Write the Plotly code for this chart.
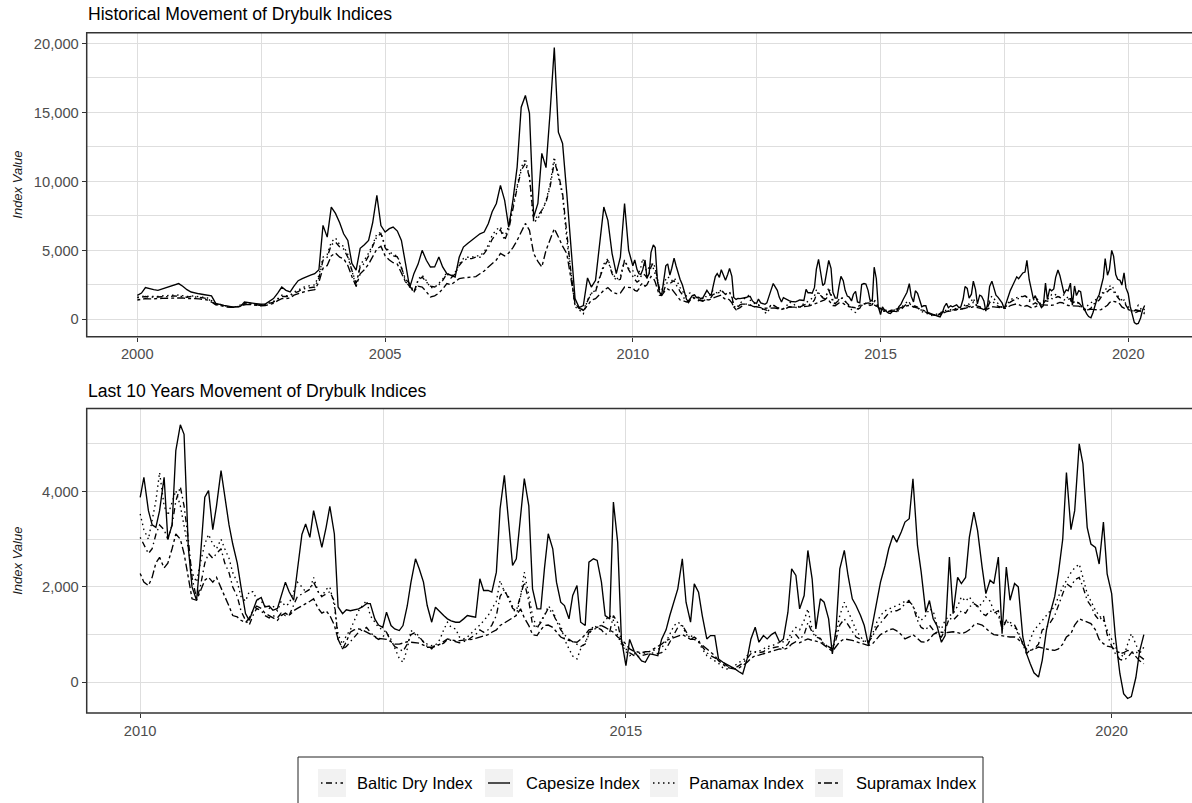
import pandas as pd
import plotly.graph_objects as go

W, H = 1192, 803

# ---------------------------------------------------------------------------
# Index values. Monthly readings for 2000-2009, twice-monthly from 2010 on.
# ---------------------------------------------------------------------------
dates_monthly = pd.date_range("2000-01-01", "2009-12-01", freq="MS")
dates_semimonthly = pd.date_range("2010-01-01", "2020-05-01", freq="SMS")

capesize_2000s = [
    1740, 1900, 2300, 2200, 2150, 2100, 2200, 2250, 2350, 2450, 2590, 2400,
    2150, 1980, 1900, 1850, 1800, 1740, 1700, 1150, 1050, 1010, 950, 890,
    900, 950, 1250, 1200, 1140, 1100, 1090, 1100, 1300, 1500, 1900, 2340,
    2100, 1980, 2400, 2800, 2950, 3100, 3200, 3310, 3600, 6810, 5960, 8140,
    7680, 7000, 6200, 5720, 4050, 3560, 5150, 5400, 5720, 7000, 8990, 6800,
    6330, 6570, 6690, 6400, 5720, 4000, 2300, 3310, 4000, 5000, 4280, 3790,
    3800, 4510, 3800, 3310, 3200, 3070, 4500, 5240, 5500, 5720, 6000, 6200,
    6330, 6950, 7800, 8400, 9710, 8620, 6690, 8620, 11040, 15380, 16230, 14930,
    7410, 8400, 12030, 11000, 15000, 19700, 13570, 12750, 9130, 5000, 1500, 850,
    1000, 3000, 2340, 2830, 5500, 8140, 7170, 4770, 3310, 4500, 8400, 5000,
]
baltic_2000s = [
    1550, 1600, 1650, 1600, 1600, 1620, 1650, 1650, 1650, 1700, 1700, 1650,
    1600, 1650, 1620, 1600, 1550, 1500, 1300, 1100, 1050, 950, 900, 880,
    900, 1000, 1100, 1150, 1100, 1050, 1000, 1050, 1150, 1250, 1450, 1650,
    1650, 1700, 1900, 2000, 2200, 2250, 2300, 2340, 3000, 4280, 4500, 5400,
    5600, 5250, 5100, 4500, 3550, 2600, 3800, 4050, 4600, 5250, 6000, 6210,
    5200, 4770, 4600, 4530, 3800, 2900, 2590, 2000, 2800, 3070, 2700, 2400,
    2340, 2500, 2800, 3310, 3000, 3300, 3900, 4280, 4400, 4400, 4510, 4500,
    4770, 5200, 5800, 6210, 6500, 5720, 6500, 8140, 9500, 10800, 11300, 10310,
    7170, 7500, 7900, 8500, 9590, 11400, 10550, 9130, 6210, 3500, 1000, 800,
    700, 1300, 1880, 2000, 3000, 3800, 4280, 3300, 2830, 2900, 4280, 3600,
]
panamax_2000s = [
    1600, 1650, 1700, 1650, 1640, 1650, 1700, 1700, 1720, 1750, 1760, 1700,
    1650, 1700, 1680, 1650, 1600, 1550, 1350, 1150, 1080, 980, 930, 900,
    920, 1050, 1150, 1200, 1130, 1080, 1020, 1080, 1200, 1300, 1500, 1750,
    1700, 1750, 2000, 2100, 2300, 2400, 2450, 2500, 3200, 4500, 4700, 5600,
    5900, 5400, 5300, 4700, 3600, 2340, 4000, 4300, 4800, 5400, 6200, 6300,
    5300, 4900, 4700, 4600, 3800, 2700, 2500, 1900, 2900, 3200, 2800, 2300,
    2300, 2600, 2900, 3400, 3100, 3400, 4000, 4400, 4500, 4500, 4600, 4600,
    4900, 5400, 6100, 6500, 6700, 5900, 6800, 8300, 9700, 11000, 11650, 10300,
    7000, 7300, 7800, 8600, 9800, 11760, 10300, 9000, 5800, 3200, 900, 700,
    400, 1400, 1900, 2100, 3100, 4000, 4400, 3400, 2900, 3100, 4300, 3700,
]
supramax_2000s = [
    1400, 1450, 1500, 1480, 1470, 1500, 1520, 1530, 1540, 1560, 1580, 1550,
    1500, 1520, 1500, 1480, 1450, 1400, 1250, 1050, 1000, 920, 880, 860,
    870, 950, 1050, 1080, 1050, 1000, 980, 1000, 1080, 1150, 1350, 1500,
    1500, 1550, 1750, 1850, 2000, 2050, 2100, 2150, 2700, 3700, 3900, 4600,
    4800, 4500, 4400, 3900, 3100, 2400, 3300, 3600, 4000, 4500, 5100, 5300,
    4600, 4300, 4100, 4000, 3400, 2700, 2400, 2000, 2400, 2340, 2000, 1620,
    1700, 1900, 2200, 2590, 2500, 2700, 2950, 3000, 3050, 3070, 3100, 3300,
    3500, 3800, 4050, 4300, 4770, 4600, 4800, 5200, 5720, 6300, 6950, 6450,
    4770, 4200, 3790, 5000, 5720, 6570, 5970, 5300, 4770, 3070, 1140, 800,
    650, 1000, 1380, 1500, 1800, 2100, 2300, 2000, 1860, 1900, 2340, 2300,
]

capesize_2010s = [
    3880, 4300, 3600, 3300, 3250, 3600, 4300, 3000, 3300, 4860, 5400, 5200,
    2830, 2000, 1720, 2600, 3880, 4020, 3200, 3700, 4440, 3900, 3300, 2900,
    2500, 2000, 1440, 1300, 1500, 1720, 1780, 1580, 1600, 1510, 1550, 1800,
    2100, 1900, 1720, 2350, 3100, 3320, 3040, 3600, 3200, 2830, 3250, 3690,
    3110, 1580, 1440, 1520, 1500, 1520, 1540, 1580, 1650, 1650, 1330, 1200,
    1150, 1470, 1190, 1120, 1085, 1190, 1600, 2100, 2590, 2380, 2100, 1610,
    1260, 1575, 1470, 1400, 1330, 1290, 1260, 1260, 1330, 1400, 1380, 1365,
    2170, 1925, 1925, 1890, 2310, 3640, 4340, 3430, 2450, 2590, 3430, 4270,
    3700, 1960, 1540, 1540, 2400, 3115, 2800, 2100, 1680, 1610, 1330, 1820,
    2030, 1260, 1190, 2520, 2590, 2555, 2100, 1400, 1330, 3780, 2940, 910,
    350, 900, 650, 550, 450, 420, 595, 580, 560, 900, 1100, 1400,
    1700, 1960, 2590, 1680, 1260, 2065, 1890, 1400, 910, 980, 980, 490,
    420, 380, 315, 280, 220, 175, 500, 910, 1155, 840, 980, 910,
    1000, 1050, 840, 910, 1470, 2380, 2240, 1540, 1820, 2765, 2170, 1120,
    1750, 1680, 1330, 595, 1120, 2380, 2765, 2240, 1750, 1610, 1400, 1190,
    770, 1190, 1700, 2100, 2450, 2800, 3080, 2940, 3150, 3360, 3430, 4270,
    2870, 2310, 1470, 1715, 1330, 1190, 840, 980, 2625, 1440, 2200, 2070,
    2200, 3040, 3570, 3180, 2415, 1860, 2140, 2070, 2625, 1020, 2415, 1720,
    2070, 2000, 950, 600, 390, 200, 110, 460, 1100, 1450, 1800, 2300,
    3000, 4400, 3200, 3600, 5000, 4580, 3250, 2900, 2830, 2480, 3360, 2275,
    1860, 950, 180, -240, -340, -300, 100, 650, 1000,
]
baltic_2010s = [
    3040, 2900, 2700, 2800, 3100, 3300, 3200, 3000, 3300, 3800, 4100, 3700,
    3000, 2200, 1750, 2000, 2500, 2700, 2600, 2700, 2800, 2500, 2300, 2000,
    1800, 1500, 1300, 1200, 1400, 1550, 1500, 1400, 1350, 1400, 1350, 1450,
    1400, 1400, 1600, 1800, 1850, 1900, 1950, 2100, 1900, 1800, 1850, 1900,
    1700, 900, 700, 750, 850, 950, 1050, 1100, 1150, 1050, 950, 900,
    950, 1050, 850, 750, 700, 650, 800, 1000, 1050, 950, 850, 750,
    700, 800, 780, 820, 900, 880, 850, 830, 850, 880, 950, 1000,
    1100, 1050, 1100, 1200, 1400, 1800, 1950, 1750, 1550, 1500, 1800, 2100,
    1700, 1200, 1150, 1250, 1400, 1550, 1450, 1300, 1100, 1000, 900, 850,
    800, 750, 800, 1050, 1100, 1150, 1100, 1000, 1050, 1400, 1250, 850,
    700, 620, 560, 540, 560, 580, 600, 620, 600, 620, 700, 850,
    1000, 1150, 1200, 1050, 900, 950, 880, 750, 620, 560, 520, 470,
    420, 350, 310, 300, 350, 400, 500, 600, 640, 620, 640, 700,
    720, 730, 750, 720, 800, 950, 1000, 900, 1000, 1250, 1050, 950,
    920, 800, 750, 700, 900, 1200, 1330, 1200, 1050, 950, 900, 850,
    850, 950, 1150, 1250, 1350, 1450, 1500, 1500, 1550, 1650, 1700, 1600,
    1300, 1150, 1100, 1200, 1100, 1000, 950, 1100, 1350, 1300, 1400, 1500,
    1450, 1580, 1650, 1600, 1440, 1400, 1500, 1450, 1500, 1100, 1300, 1250,
    1200, 1050, 800, 600, 680, 700, 800, 1100, 1150, 1250, 1400, 1600,
    1860, 2070, 2000, 2150, 2200, 2000, 1720, 1600, 1400, 1300, 1400, 1000,
    760, 600, 480, 460, 520, 620, 650, 550, 480,
]
panamax_2010s = [
    3530, 3200, 3000, 3400, 3800, 4400, 3700, 3500, 3800, 4020, 3700, 3300,
    2800, 2300, 2100, 2500, 2900, 3100, 2900, 2800, 3000, 2800, 2600, 2300,
    2100, 1800, 1700, 1900, 1900, 1750, 1700, 1600, 1550, 1600, 1500, 1700,
    1600, 1650, 1900, 2100, 2000, 1900, 1950, 2200, 1900, 1800, 1950, 2000,
    1600, 1000, 800, 980, 1100, 1300, 1500, 1600, 1715, 1400, 1260, 1150,
    1100, 1050, 900, 700, 500, 420, 700, 1085, 1000, 910, 850, 800,
    770, 780, 900, 1100, 1260, 1150, 1120, 950, 910, 950, 1050, 1120,
    1200, 1300, 1400, 1540, 1700, 2135, 1900, 1820, 1600, 1400, 1800, 2310,
    1820, 1400, 1120, 1300, 1400, 1600, 1500, 1300, 1190, 900, 700, 550,
    490, 700, 840, 1000, 1190, 1150, 1200, 1300, 1400, 1300, 980, 800,
    650, 560, 600, 620, 595, 620, 650, 680, 700, 720, 850, 1000,
    1190, 1260, 1200, 1000, 980, 950, 850, 700, 560, 500, 450, 400,
    300, 280, 300, 350, 420, 450, 550, 650, 630, 650, 700, 750,
    760, 800, 840, 850, 900, 1050, 1150, 1100, 1300, 1540, 1100, 980,
    900, 800, 750, 700, 1000, 1400, 1680, 1500, 1260, 1100, 950, 870,
    840, 1000, 1260, 1400, 1500, 1540, 1580, 1610, 1650, 1700, 1715, 1600,
    1400, 1300, 1400, 1540, 1500, 1200, 1120, 1300, 1400, 1440, 1600, 1790,
    1700, 1790, 1650, 1580, 1650, 1790, 1700, 1500, 1400, 1160, 1300, 1200,
    1160, 1000, 800, 670, 900, 1090, 1200, 1300, 1400, 1500, 1580, 1800,
    2000, 2140, 2300, 2400, 2480, 2200, 1860, 1700, 1510, 1400, 1300, 1100,
    900, 740, 600, 530, 800, 1020, 800, 600, 740,
]
supramax_2010s = [
    2280, 2100, 2030, 2200, 2500, 2620, 2400, 2500, 2800, 3110, 3000, 2700,
    2200, 1750, 1720, 1900, 2140, 2200, 2100, 2200, 2000, 1800, 1600, 1400,
    1370, 1300, 1250, 1350, 1500, 1600, 1550, 1450, 1400, 1350, 1300, 1400,
    1450, 1400, 1500, 1550, 1600, 1650, 1700, 1750, 1550, 1450, 1500, 1400,
    1200, 900, 700, 850, 1050, 1100, 1120, 1100, 1050, 1000, 950, 920,
    910, 900, 850, 800, 800, 820, 850, 840, 830, 820, 780, 735,
    735, 750, 800, 850, 910, 890, 870, 875, 880, 890, 900, 920,
    945, 960, 1000, 1050, 1100, 1190, 1250, 1300, 1350, 1400, 1540, 1350,
    1190, 1000, 980, 1100, 1190, 1200, 1150, 1050, 950, 910, 880, 850,
    840, 900, 1000, 1100, 1120, 1150, 1190, 1150, 1100, 1050, 950, 900,
    800, 700, 650, 630, 620, 640, 650, 700, 750, 800, 880, 910,
    950, 980, 1000, 960, 900, 900, 850, 780, 700, 650, 560, 450,
    380, 315, 290, 280, 300, 350, 420, 500, 560, 570, 600, 620,
    650, 680, 700, 690, 720, 800, 850, 830, 870, 910, 880, 860,
    840, 780, 700, 650, 750, 850, 910, 900, 880, 850, 820, 790,
    770, 800, 900, 1000, 1050, 1100, 1120, 1080, 1000, 910, 950, 1000,
    920, 850, 840, 900, 1000, 1050, 1050, 1040, 1050, 1060, 1040, 1020,
    1050, 1100, 1200, 1230, 1200, 1120, 1050, 1000, 985, 980, 960, 950,
    950, 900, 800, 700, 670, 690, 740, 720, 700, 680, 670, 700,
    800, 950, 1020, 1200, 1330, 1300, 1250, 1230, 1100, 900, 810, 760,
    740, 680, 600, 620, 670, 650, 550, 450, 390,
]

series_names = ["Baltic Dry Index", "Capesize Index", "Panamax Index", "Supramax Index"]

# ---------------------------------------------------------------------------
# Assemble the long table
# ---------------------------------------------------------------------------
dates = list(dates_monthly) + list(dates_semimonthly)
df = pd.DataFrame({
    "date": dates,
    "Baltic Dry Index": baltic_2000s + baltic_2010s,
    "Capesize Index": capesize_2000s + capesize_2010s,
    "Panamax Index": panamax_2000s + panamax_2010s,
    "Supramax Index": supramax_2000s + supramax_2010s,
})
recent = df[df["date"] >= pd.Timestamp("2010-01-01")]

# line types per index (dotdash, solid, dotted, twodash)
dash_styles = {
    "Baltic Dry Index": "1.5px,3.5px,6px,3.5px",
    "Capesize Index": "solid",
    "Panamax Index": "1.5px,3.5px",
    "Supramax Index": "3px,3px,8px,3px",
}

FONT = "Liberation Sans, Arial, sans-serif"
INK = "#000000"
TICK_COL = "#4D4D4D"
GRID = "#DEDEDE"
FRAME = "#333333"
LINE_W = 1.35


def px_x(px):
    return px / W


def px_y(py):
    return 1 - py / H


fig = go.Figure()

for name in series_names:
    fig.add_trace(go.Scatter(
        x=df["date"], y=df[name], mode="lines", name=name,
        line=dict(color=INK, width=LINE_W, dash=dash_styles[name]),
        xaxis="x", yaxis="y", showlegend=False, hoverinfo="skip",
    ))
    fig.add_trace(go.Scatter(
        x=recent["date"], y=recent[name], mode="lines", name=name,
        line=dict(color=INK, width=LINE_W, dash=dash_styles[name]),
        xaxis="x2", yaxis="y2", showlegend=False, hoverinfo="skip",
    ))

# panel geometry (pixels)
left_px = 86.7
top_panel = (32.7, 336.7)
bottom_panel = (408.5, 713.0)

axis_common = dict(
    showline=False, zeroline=False, showgrid=True,
    gridcolor=GRID, gridwidth=1.3,
    ticks="outside", ticklen=4, tickwidth=1, tickcolor=FRAME,
    tickfont=dict(family=FONT, size=14.7, color=TICK_COL),
    fixedrange=True,
)

year_ticks_all = ["2000-01-01", "2005-01-01", "2010-01-01", "2015-01-01", "2020-01-01"]
year_ticks_recent = ["2010-01-01", "2015-01-01", "2020-01-01"]

fig.update_layout(
    width=W, height=H, autosize=False,
    margin=dict(l=0, r=0, t=0, b=0),
    paper_bgcolor="white", plot_bgcolor="white",
    xaxis=dict(
        **axis_common, anchor="y", domain=[px_x(left_px), 1],
        type="date", range=["1998-12-24", "2021-04-15"],
        tickmode="array", tickvals=year_ticks_all, tickformat="%Y",
        minor=dict(tickmode="array",
                   tickvals=["2002-07-02", "2007-07-02", "2012-07-02", "2017-07-02"],
                   showgrid=True, gridcolor=GRID, gridwidth=0.9, ticks=""),
    ),
    yaxis=dict(
        **axis_common, anchor="x", domain=[px_y(top_panel[1]), px_y(top_panel[0])],
        range=[-1262, 20783], tickmode="array",
        tickvals=[0, 5000, 10000, 15000, 20000], tickformat=",",
        minor=dict(tickmode="array", tickvals=[2500, 7500, 12500, 17500],
                   showgrid=True, gridcolor=GRID, gridwidth=0.9, ticks=""),
    ),
    xaxis2=dict(
        **axis_common, anchor="y2", domain=[px_x(left_px), 1],
        type="date", range=["2009-06-14", "2020-10-29"],
        tickmode="array", tickvals=year_ticks_recent, tickformat="%Y",
        minor=dict(tickmode="array", tickvals=["2012-07-02", "2017-07-02"],
                   showgrid=True, gridcolor=GRID, gridwidth=0.9, ticks=""),
    ),
    yaxis2=dict(
        **axis_common, anchor="x2",
        domain=[px_y(bottom_panel[1]), px_y(bottom_panel[0])],
        range=[-644, 5742], tickmode="array",
        tickvals=[0, 2000, 4000], tickformat=",",
        minor=dict(tickmode="array", tickvals=[1000, 3000, 5000],
                   showgrid=True, gridcolor=GRID, gridwidth=0.9, ticks=""),
    ),
)

shapes = []
annotations = []

# panel frames (right edge runs off the page)
for (y0, y1) in (top_panel, bottom_panel):
    shapes.append(dict(type="rect", xref="paper", yref="paper",
                       x0=px_x(left_px), x1=1.02, y0=px_y(y1), y1=px_y(y0),
                       line=dict(color=FRAME, width=1.5), layer="above"))

# panel titles
for text, ypx in (("Historical Movement of Drybulk Indices", 14.5),
                  ("Last 10 Years Movement of Drybulk Indices", 391.0)):
    annotations.append(dict(text=text, xref="paper", yref="paper",
                            x=px_x(86), y=px_y(ypx), xanchor="left", yanchor="middle",
                            showarrow=False,
                            font=dict(family=FONT, size=17.6, color=INK)))

# y axis titles
for (y0, y1) in (top_panel, bottom_panel):
    annotations.append(dict(text="<i>Index Value</i>", xref="paper", yref="paper",
                            x=px_x(18), y=px_y((y0 + y1) / 2), textangle=-90,
                            xanchor="center", yanchor="middle", showarrow=False,
                            font=dict(family=FONT, size=13, color="#1A1A1A")))

# legend box at the foot of the page
shapes.append(dict(type="rect", xref="paper", yref="paper",
                   x0=px_x(298), x1=px_x(983), y0=px_y(812), y1=px_y(757),
                   line=dict(color="#222222", width=1), fillcolor="white"))
legend_keys = [(318, 355), (485, 524), (650, 687), (815, 854)]
legend_mid = 783
for name, (kx, tx) in zip(series_names, legend_keys):
    shapes.append(dict(type="rect", xref="paper", yref="paper",
                       x0=px_x(kx), x1=px_x(kx + 28),
                       y0=px_y(legend_mid + 14), y1=px_y(legend_mid - 14),
                       line=dict(width=0), fillcolor="#F2F2F2"))
    shapes.append(dict(type="line", xref="paper", yref="paper",
                       x0=px_x(kx + 3), x1=px_x(kx + 25),
                       y0=px_y(legend_mid), y1=px_y(legend_mid),
                       line=dict(color=INK, width=LINE_W, dash=dash_styles[name])))
    annotations.append(dict(text=name, xref="paper", yref="paper",
                            x=px_x(tx), y=px_y(legend_mid), xanchor="left",
                            yanchor="middle", showarrow=False,
                            font=dict(family=FONT, size=16.5, color=INK)))

fig.update_layout(shapes=shapes, annotations=annotations)

fig.write_html("out.html")
